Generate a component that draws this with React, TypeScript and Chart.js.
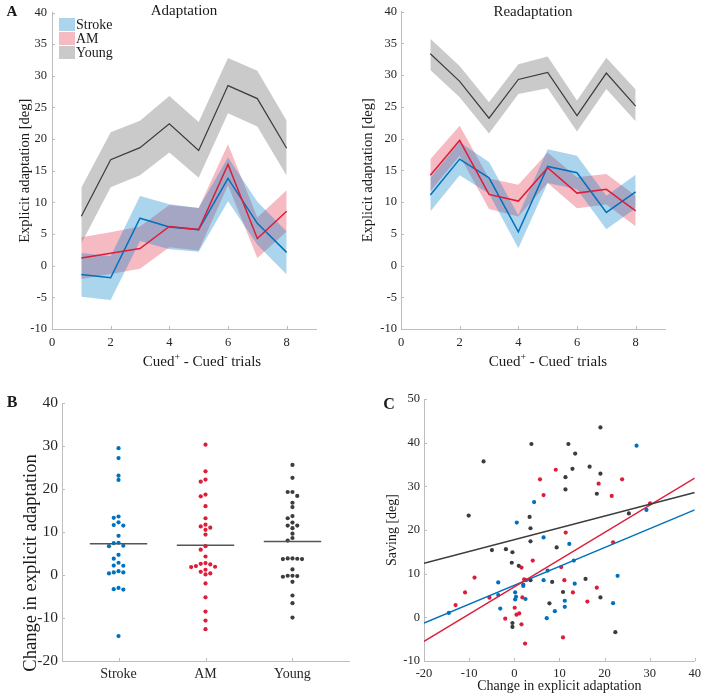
import React, { useEffect, useRef } from "react";
import { Chart, registerables } from "chart.js";
Chart.register(...registerables);

// ---------- data ----------
const trials = [1, 2, 3, 4, 5, 6, 7, 8];
const trialTicks = [0, 2, 4, 6, 8];
const explicitTicks = [-10, -5, 0, 5, 10, 15, 20, 25, 30, 35, 40];

const adaptStrokeMean = [-1.4, -1.9, 7.5, 6.1, 5.7, 13.8, 6.7, 2.1];
const adaptStrokeUpper = [2.0, 1.5, 11.0, 9.7, 9.1, 17.1, 10.1, 5.4];
const adaptStrokeLower = [-4.9, -5.4, 3.9, 2.6, 2.2, 10.2, 3.3, -1.4];
const adaptAMMean = [1.2, 1.95, 2.7, 6.2, 5.7, 16.0, 4.3, 8.6];
const adaptAMUpper = [4.5, 5.3, 6.2, 9.6, 9.1, 19.2, 7.6, 11.9];
const adaptAMLower = [-2.1, -1.3, -0.5, 2.9, 2.4, 12.7, 1.2, 5.4];
const adaptYoungMean = [7.8, 16.75, 18.65, 22.4, 18.2, 28.45, 26.4, 18.55];
const adaptYoungUpper = [12.3, 21.1, 22.9, 26.8, 22.7, 32.8, 30.8, 22.9];
const adaptYoungLower = [3.5, 12.4, 14.3, 17.9, 13.9, 24.1, 22.0, 14.2];

const readStrokeMean = [11.1, 16.75, 13.8, 5.3, 15.6, 14.6, 8.35, 11.6];
const readStrokeUpper = [13.8, 19.4, 16.3, 7.9, 18.3, 17.3, 11.0, 14.3];
const readStrokeLower = [8.5, 14.2, 11.3, 2.7, 13.0, 12.0, 5.7, 9.0];
const readAMMean = [14.2, 19.7, 11.2, 10.15, 15.4, 11.4, 12.0, 8.6];
const readAMUpper = [16.75, 22.0, 13.7, 12.7, 17.8, 13.9, 14.4, 11.0];
const readAMLower = [11.7, 17.3, 8.9, 7.7, 13.0, 9.0, 9.6, 6.2];
const readYoungMean = [33.35, 29.0, 23.2, 29.3, 30.4, 23.6, 30.3, 25.1];
const readYoungUpper = [35.7, 31.4, 25.7, 31.7, 32.9, 26.0, 32.7, 27.7];
const readYoungLower = [30.8, 26.5, 20.8, 27.0, 27.9, 21.1, 27.8, 22.7];

const groupNames = ["Stroke", "AM", "Young"];
const changeTicks = [-20, -10, 0, 10, 20, 30, 40];
const changeStroke = [29.5, 27.2, 23.1, 22.1, 13.6, 13.3, 12.25, 11.5, 11.6, 9.1, 7.5, 7.4, 6.8, 6.7, 4.7, 3.8, 2.85, 2.15, 2.2, 0.6, 0.9, 0.6, 0.37, -3.3, -3.0, -3.4, -14.2];
const changeAM = [30.3, 24.1, 22.2, 21.7, 18.3, 18.7, 16.0, 13.2, 11.3, 11.0, 11.7, 10.5, 9.4, 6.7, 5.9, 4.3, 2.46, 1.92, 1.84, 2.07, 2.6, 2.77, 0.75, 1.22, 0.13, 0.37, -1.97, -5.2, -8.5, -10.6, -12.6];
const changeYoung = [25.6, 22.6, 19.3, 19.3, 18.4, 16.8, 15.8, 13.7, 13.2, 10.9, 12.2, 11.5, 11.5, 9.6, 8.6, 8.0, 3.78, 3.86, 3.86, 3.7, 3.7, 1.3, -0.18, -0.41, -0.26, -0.18, -1.58, -4.77, -6.56, -9.9];
const changeMeans = [7.28, 6.9, 7.8];

const savingXTicks = [-20, -10, 0, 10, 20, 30, 40];
const savingYTicks = [-10, 0, 10, 20, 30, 40, 50];
const cStrokeX = [-14.5, -3.55, -3.55, -3.1, 0.56, 4.4, 0.2, 0.4, 0.2, 2.0, 2.0, 2.5, 6.5, 6.5, 7.4, 7.2, 9.0, 11.2, 11.2, 12.2, 13.2, 13.4, 21.9, 22.9, 27.1, 29.3];
const cStrokeY = [1.0, 8.0, 5.1, 2.0, 21.7, 26.4, 5.7, 4.7, 4.1, 7.5, 7.2, 4.2, 18.3, 8.5, 10.7, -0.2, 1.4, 3.8, 2.4, 16.8, 13.0, 7.7, 3.25, 9.5, 39.3, 24.6];
const cAMX = [-13.0, -10.9, -8.8, -5.5, -2.0, 0.1, 0.5, 1.1, 1.6, 1.6, 1.8, 2.2, 2.6, 2.4, 4.1, 5.7, 6.5, 9.2, 10.4, 11.1, 11.4, 10.8, 13.0, 16.2, 18.3, 18.7, 21.6, 21.9, 23.9, 30.1];
const cAMY = [2.8, 5.7, 9.1, 4.5, -0.3, 2.2, 0.6, 0.9, -1.6, 11.4, 4.55, 8.7, 8.5, -6.0, 13.0, 31.6, 28.0, 33.8, 11.5, 8.5, 19.4, -4.6, 5.7, 3.6, 6.8, 30.6, 27.8, 17.2, 31.6, 26.1];
const cYoungX = [-10.1, -6.8, -4.95, -1.85, -0.4, -0.55, -0.4, -0.4, 1.0, 3.4, 3.6, 3.6, 3.6, 3.8, 7.8, 8.4, 9.4, 10.8, 11.35, 11.35, 12.0, 12.9, 13.5, 15.8, 16.7, 18.3, 19.1, 19.1, 19.1, 22.4, 25.4];
const cYoungY = [23.3, 35.7, 15.4, 15.6, 14.9, 12.5, -1.3, -2.2, 11.8, 23.0, 20.4, 17.4, 8.5, 39.7, 3.2, 8.1, 16.0, 5.8, 32.1, 29.3, 39.7, 34.0, 37.5, 8.8, 34.5, 28.3, 32.9, 43.5, 4.55, -3.4, 23.8];
const fitX = [-20, 40];
const fitStroke = [-1.3, 24.6];
const fitAM = [-5.5, 31.9];
const fitYoung = [12.4, 28.6];

// ---------- styles ----------
const FONT = "'Liberation Serif', 'Times New Roman', serif";
const AXIS = "#bdbdbd";
const TICK = "#262626";
const TXT = "#1a1a1a";
const BLUE = "#0072BD";
const RED = "#DC1E3A";
const GREY = "#3c3c3c";
const BLUE_BAND = "rgba(0,125,200,0.33)";
const RED_BAND = "rgba(225,45,70,0.33)";
const GREY_BAND = "rgba(110,110,110,0.37)";

type TextItem = { text?: string; parts?: { t: string; sup?: boolean }[]; x: number; y: number; size: number; bold?: boolean; rotate?: number };

function textPlugin(items: TextItem[]) {
  return {
    id: "texts",
    afterDraw(chart: any) {
      const ctx = chart.ctx;
      items.forEach((it) => {
        ctx.save();
        ctx.fillStyle = TXT;
        ctx.textBaseline = "middle";
        ctx.translate(it.x, it.y);
        if (it.rotate) ctx.rotate(it.rotate);
        const w = it.bold ? "bold " : "";
        if (it.parts) {
          const segs = it.parts.map((p) => {
            const sz = p.sup ? it.size * 0.65 : it.size;
            ctx.font = `${w}${sz}px ${FONT}`;
            return { ...p, sz, w: ctx.measureText(p.t).width };
          });
          const total = segs.reduce((a, s) => a + s.w, 0);
          let cx = -total / 2;
          ctx.textAlign = "left";
          segs.forEach((s) => {
            ctx.font = `${w}${s.sz}px ${FONT}`;
            ctx.fillText(s.t, cx, s.sup ? -it.size * 0.32 : 0);
            cx += s.w;
          });
        } else {
          ctx.font = `${w}${it.size}px ${FONT}`;
          ctx.textAlign = "center";
          ctx.fillText(it.text, 0, 0);
        }
        ctx.restore();
      });
    },
  };
}

const inwardTicks = {
  id: "inwardTicks",
  afterDraw(chart: any) {
    const { ctx, chartArea } = chart;
    const xs = chart.scales.x;
    const ys = chart.scales.y;
    ctx.save();
    ctx.strokeStyle = AXIS;
    ctx.lineWidth = 1;
    ctx.beginPath();
    xs.ticks.forEach((t: any) => {
      const p = Math.round(xs.getPixelForValue(t.value)) + 0.5;
      ctx.moveTo(p, chartArea.bottom);
      ctx.lineTo(p, chartArea.bottom - 3);
    });
    ys.ticks.forEach((t: any) => {
      const p = Math.round(ys.getPixelForValue(t.value)) + 0.5;
      ctx.moveTo(chartArea.left, p);
      ctx.lineTo(chartArea.left + 3, p);
    });
    ctx.stroke();
    ctx.restore();
  },
};

function legendPlugin(entries: { label: string; color: string }[]) {
  return {
    id: "bandLegend",
    afterDraw(chart: any) {
      const { ctx, chartArea } = chart;
      ctx.save();
      entries.forEach((e, i) => {
        const y = chartArea.top + 12 + i * 14;
        ctx.fillStyle = "#fff";
        ctx.fillRect(chartArea.left + 7, y - 6.5, 16, 13);
        ctx.fillStyle = e.color;
        ctx.fillRect(chartArea.left + 7, y - 6.5, 16, 13);
        ctx.fillStyle = TXT;
        ctx.font = `14px ${FONT}`;
        ctx.textAlign = "left";
        ctx.textBaseline = "middle";
        ctx.fillText(e.label, chartArea.left + 24, y + 0.5);
      });
      ctx.restore();
    },
  };
}

function axis(min: number, max: number, ticks: number[], size: number, pad: number, fixed: number, isX: boolean, title?: any, cb?: (v: number) => string) {
  return {
    type: "linear",
    min,
    max,
    afterBuildTicks: (s: any) => {
      s.ticks = ticks.map((v) => ({ value: v }));
    },
    afterFit: (s: any) => {
      if (isX) s.height = fixed;
      else s.width = fixed;
    },
    grid: { display: true, drawOnChartArea: false, drawTicks: false, color: AXIS },
    border: { display: true, color: AXIS, width: 1 },
    ticks: {
      font: { family: FONT, size },
      color: TICK,
      padding: pad,
      autoSkip: false,
      maxRotation: 0,
      ...(cb ? { callback: cb } : {}),
    },
    title: title || { display: false },
  };
}

const pts = (xs: number[], ys: number[]) => xs.map((x, i) => ({ x, y: ys[i] }));

function swarm(values: number[], step: number, gap: number): number[] {
  const order = values.map((_, i) => i).sort((a, b) => values[b] - values[a]);
  const offs = new Array(values.length).fill(0);
  const placed: { v: number; o: number }[] = [];
  for (const i of order) {
    const v = values[i];
    for (let k = 0; k < 30; k++) {
      const slot = k === 0 ? 0 : k % 2 ? -Math.ceil(k / 2) : Math.ceil(k / 2);
      const o = slot * step;
      if (!placed.some((p) => Math.abs(p.o - o) < step / 2 && Math.abs(p.v - v) < gap)) {
        offs[i] = o;
        placed.push({ v, o });
        break;
      }
    }
  }
  return offs;
}

function bandSets(mean: number[], up: number[], lo: number[], line: string, band: string, lw: number) {
  return {
    mean: { data: pts(trials, mean), borderColor: line, borderWidth: lw, pointRadius: 0, fill: false },
    up: { data: pts(trials, up), borderWidth: 0, pointRadius: 0, fill: "+1", backgroundColor: band },
    lo: { data: pts(trials, lo), borderWidth: 0, pointRadius: 0, fill: false },
  };
}

function lineConfig(sets: any[], texts: TextItem[], extra: any[]) {
  const [s, a, y] = sets;
  return {
    type: "line",
    data: { datasets: [y.mean, a.mean, s.mean, y.up, y.lo, s.up, s.lo, a.up, a.lo] },
    options: {
      animation: false,
      responsive: false,
      layout: { padding: { left: 0, top: 7, right: 0, bottom: 0 } },
      plugins: { legend: { display: false }, tooltip: { enabled: false } },
      scales: {},
    },
    plugins: [inwardTicks, textPlugin(texts), ...extra],
  } as any;
}

export default function App() {
  const a1 = useRef<HTMLCanvasElement>(null);
  const a2 = useRef<HTMLCanvasElement>(null);
  const b = useRef<HTMLCanvasElement>(null);
  const c = useRef<HTMLCanvasElement>(null);

  useEffect(() => {
    const charts: Chart[] = [];
    const xTitleParts = [{ t: "Cued" }, { t: "+", sup: true }, { t: " - Cued" }, { t: "-", sup: true }, { t: " trials" }];

    // Panel A left
    const adaptSets = [
      bandSets(adaptStrokeMean, adaptStrokeUpper, adaptStrokeLower, BLUE, BLUE_BAND, 1.5),
      bandSets(adaptAMMean, adaptAMUpper, adaptAMLower, RED, RED_BAND, 1.5),
      bandSets(adaptYoungMean, adaptYoungUpper, adaptYoungLower, GREY, GREY_BAND, 1.2),
    ];
    const cfgA1 = lineConfig(
      adaptSets,
      [
        { text: "A", x: 12, y: 12, size: 15, bold: true },
        { text: "Adaptation", x: 184, y: 11, size: 15 },
        { parts: xTitleParts, x: 202, y: 362, size: 15 },
      ],
      [legendPlugin([{ label: groupNames[0], color: BLUE_BAND }, { label: groupNames[1], color: RED_BAND }, { label: groupNames[2], color: GREY_BAND }])]
    );
    cfgA1.options.layout.padding.right = 37;
    cfgA1.options.scales = {
      x: axis(0, 9, trialTicks, 12.5, 6, 51, true),
      y: axis(-10, 40, explicitTicks, 12.5, 5, 52, false, {
        display: true,
        text: "Explicit adaptation [deg]",
        font: { family: FONT, size: 14.5 },
        color: TXT,
        padding: { top: 16, bottom: 0 },
      }),
    };
    charts.push(new Chart(a1.current!, cfgA1));

    // Panel A right
    const readSets = [
      bandSets(readStrokeMean, readStrokeUpper, readStrokeLower, BLUE, BLUE_BAND, 1.5),
      bandSets(readAMMean, readAMUpper, readAMLower, RED, RED_BAND, 1.5),
      bandSets(readYoungMean, readYoungUpper, readYoungLower, GREY, GREY_BAND, 1.2),
    ];
    const cfgA2 = lineConfig(
      readSets,
      [
        { text: "Readaptation", x: 180, y: 12, size: 15 },
        { parts: xTitleParts, x: 195, y: 362, size: 15 },
      ],
      []
    );
    cfgA2.options.layout.padding.right = 41;
    cfgA2.options.scales = {
      x: axis(0, 9, trialTicks, 12.5, 6, 51, true),
      y: axis(-10, 40, explicitTicks, 12.5, 4, 48, false, {
        display: true,
        text: "Explicit adaptation [deg]",
        font: { family: FONT, size: 14.5 },
        color: TXT,
        padding: { top: 6, bottom: 0 },
      }),
    };
    charts.push(new Chart(a2.current!, cfgA2));

    // Panel B
    const groups = [changeStroke, changeAM, changeYoung];
    const colors = [BLUE, RED, GREY];
    const bSets: any[] = groupNames.map((_, g) => ({
      type: "line",
      data: [
        { x: g + 1 - 0.33, y: changeMeans[g] },
        { x: g + 1 + 0.33, y: changeMeans[g] },
      ],
      borderColor: "#555",
      borderWidth: 1.5,
      pointRadius: 0,
      showLine: true,
      fill: false,
    }));
    groups.forEach((vals, g) => {
      const offs = swarm(vals, 0.055, 1.0);
      bSets.push({
        data: vals.map((v, i) => ({ x: g + 1 + offs[i], y: v })),
        backgroundColor: colors[g],
        borderWidth: 0,
        pointRadius: 2.1,
      });
    });
    charts.push(
      new Chart(b.current!, {
        type: "scatter",
        data: { datasets: bSets },
        options: {
          animation: false,
          responsive: false,
          layout: { padding: { left: 0, top: 23, right: 1, bottom: 0 } },
          plugins: { legend: { display: false }, tooltip: { enabled: false } },
          scales: {
            x: axis(0.35, 3.65, [1, 2, 3], 14, 5, 38, true, undefined, (v: number) => groupNames[Math.round(v) - 1]),
            y: axis(-20, 40, changeTicks, 15.5, 4, 62, false),
          },
        },
        plugins: [
          inwardTicks,
          textPlugin([
            { text: "B", x: 12, y: 23, size: 16, bold: true },
            { text: "Change in explicit adaptation", x: 31, y: 183, size: 18.5, rotate: -Math.PI / 2 },
          ]),
        ],
      } as any)
    );

    // Panel C
    const fitLine = (ys: number[], col: string) => ({
      type: "line",
      data: pts(fitX, ys),
      borderColor: col,
      borderWidth: 1.5,
      pointRadius: 0,
      showLine: true,
      fill: false,
    });
    charts.push(
      new Chart(c.current!, {
        type: "scatter",
        data: {
          datasets: [
            fitLine(fitYoung, GREY),
            fitLine(fitAM, RED),
            fitLine(fitStroke, BLUE),
            { data: pts(cYoungX, cYoungY), backgroundColor: GREY, borderWidth: 0, pointRadius: 2.1 },
            { data: pts(cAMX, cAMY), backgroundColor: RED, borderWidth: 0, pointRadius: 2.1 },
            { data: pts(cStrokeX, cStrokeY), backgroundColor: BLUE, borderWidth: 0, pointRadius: 2.1 },
          ],
        },
        options: {
          animation: false,
          responsive: false,
          layout: { padding: { left: 0, top: 19, right: 10, bottom: 0 } },
          plugins: { legend: { display: false }, tooltip: { enabled: false } },
          scales: {
            x: axis(-20, 40, savingXTicks, 12.5, 5, 38, true, {
              display: true,
              text: "Change in explicit adaptation",
              font: { family: FONT, size: 14 },
              color: TXT,
              padding: { top: 0, bottom: 4.6 },
            }),
            y: axis(-10, 50, savingYTicks, 12.5, 4, 71, false, {
              display: true,
              text: "Saving [deg]",
              font: { family: FONT, size: 14 },
              color: TXT,
              padding: { top: 30.6, bottom: 0 },
            }),
          },
        },
        plugins: [inwardTicks, textPlugin([{ text: "C", x: 36, y: 25, size: 16, bold: true }])],
      } as any)
    );

    return () => charts.forEach((ch) => ch.destroy());
  }, []);

  const cs = (left: number, top: number): React.CSSProperties => ({ position: "absolute", left, top, display: "block" });
  return (
    <div style={{ position: "absolute", left: 0, top: 0, width: 706, height: 699, background: "#fff", overflow: "hidden" }}>
      <canvas ref={a1} width={353} height={380} style={cs(0, 0)} />
      <canvas ref={a2} width={353} height={380} style={cs(353, 0)} />
      <canvas ref={b} width={353} height={319} style={cs(0, 380)} />
      <canvas ref={c} width={353} height={319} style={cs(353, 380)} />
    </div>
  );
}
